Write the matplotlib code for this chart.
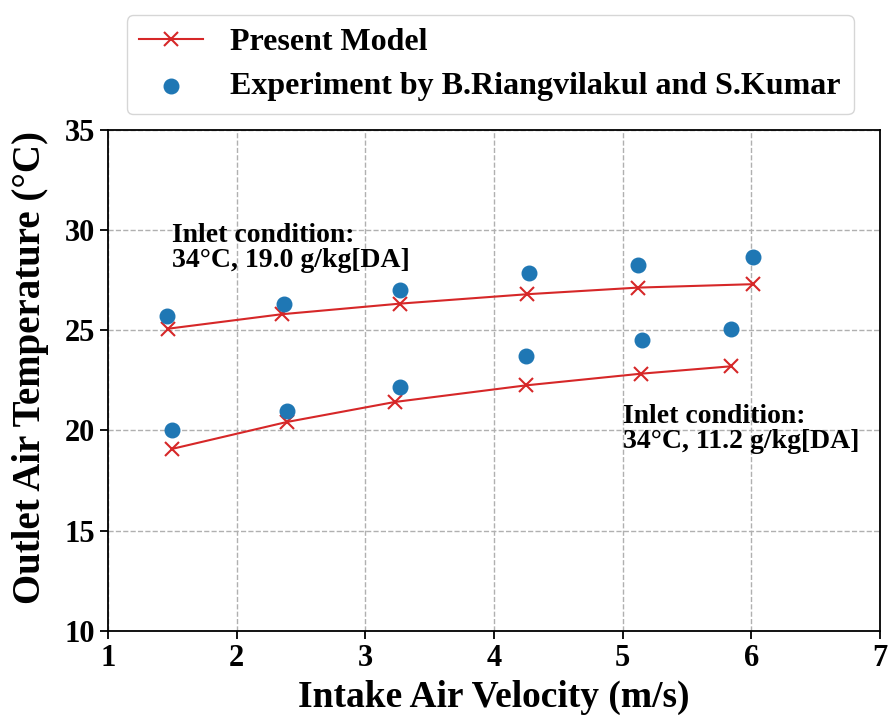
import numpy as np
import matplotlib.pyplot as plt

# Data
# upper case: inlet 34°C, 19.0 g/kg[DA]
v_model_hi = [1.47, 2.35, 3.27, 4.26, 5.12, 6.01]
t_model_hi = [25.08, 25.8, 26.33, 26.8, 27.13, 27.3]
v_exp_hi = [1.46, 2.37, 3.27, 4.27, 5.12, 6.01]
t_exp_hi = [25.72, 26.3, 27.0, 27.88, 28.25, 28.67]

# lower case: inlet 34°C, 11.2 g/kg[DA]
v_model_lo = [1.50, 2.39, 3.23, 4.25, 5.14, 5.84]
t_model_lo = [19.08, 20.42, 21.42, 22.25, 22.83, 23.2]
v_exp_lo = [1.50, 2.39, 3.27, 4.25, 5.15, 5.84]
t_exp_lo = [20.03, 20.95, 22.17, 23.7, 24.5, 25.08]

x_ticks = [1, 2, 3, 4, 5, 6, 7]
y_ticks = [10, 15, 20, 25, 30, 35]

plt.rcParams['font.family'] = 'Liberation Serif'
plt.rcParams['font.weight'] = 'bold'

fig = plt.figure(figsize=(8.92, 7.2), dpi=100)
ax = fig.add_axes([0.121, 0.124, 0.8655, 0.6955])

red = '#d62728'
blue = '#1f77b4'

line1, = ax.plot(v_model_hi, t_model_hi, color=red, marker='x', markersize=10,
                 markeredgewidth=1.5, linewidth=1.5, label='Present Model')
ax.plot(v_model_lo, t_model_lo, color=red, marker='x', markersize=10,
        markeredgewidth=1.5, linewidth=1.5)
sc = ax.scatter(v_exp_hi, t_exp_hi, s=110, color=blue, zorder=3,
                label='Experiment by B.Riangvilakul and S.Kumar')
ax.scatter(v_exp_lo, t_exp_lo, s=110, color=blue, zorder=3)

ax.text(1.5, 30.35, 'Inlet condition:\n34°C, 19.0 g/kg[DA]', fontsize=20,
        fontweight='bold', va='top', ha='left', linespacing=1.0)
ax.text(5.0, 21.3, 'Inlet condition:\n34°C, 11.2 g/kg[DA]', fontsize=20,
        fontweight='bold', va='top', ha='left', linespacing=1.0)

ax.set_xlim(1, 7)
ax.set_ylim(10, 35)
ax.set_xticks(x_ticks)
ax.set_yticks(y_ticks)
ax.tick_params(labelsize=22, direction='out', length=6, width=1.3)
for lab in ax.get_xticklabels() + ax.get_yticklabels():
    lab.set_fontweight('bold')
for s in ax.spines.values():
    s.set_linewidth(1.3)
ax.grid(True, linestyle='--', color='#b0b0b0', linewidth=1.0)
ax.set_axisbelow(True)

ax.set_xlabel('Intake Air Velocity (m/s)', fontsize=27, fontweight='bold', labelpad=5)
ax.set_ylabel('Outlet Air Temperature (°C)', fontsize=28, fontweight='bold')
ax.yaxis.set_label_coords(-0.076, 0.525)

ax.legend(handles=[line1, sc], loc='lower center', bbox_to_anchor=(0.495, 1.0),
          prop={'size': 23, 'weight': 'bold'}, frameon=True, borderpad=0.4,
          handlelength=2.0, handletextpad=0.85, labelspacing=0.45)

fig.savefig('out.png', dpi=100)
